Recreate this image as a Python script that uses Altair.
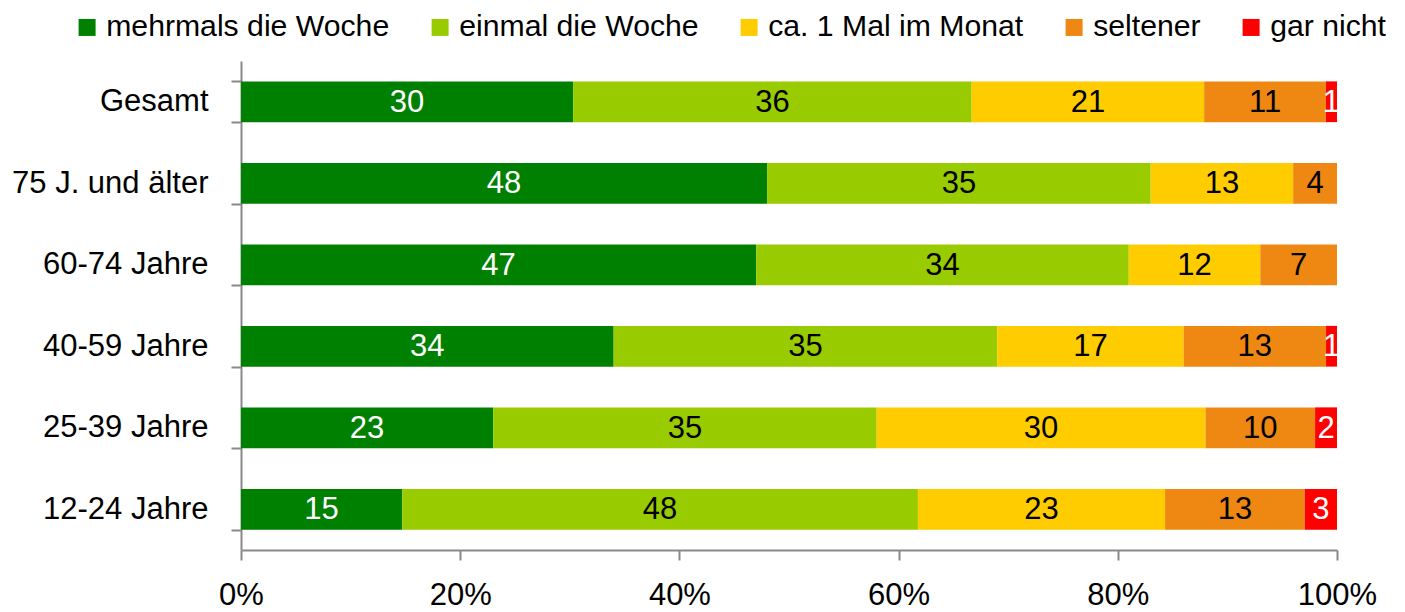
import altair as alt
import pandas as pd

gruppen = ["Gesamt", "75 J. und älter", "60-74 Jahre", "40-59 Jahre", "25-39 Jahre", "12-24 Jahre"]
kategorien = ["mehrmals die Woche", "einmal die Woche", "ca. 1 Mal im Monat", "seltener", "gar nicht"]
farben = ["#008000", "#99cc00", "#ffcc00", "#ee8812", "#ff0000"]

mehrmals = [30, 48, 47, 34, 23, 15]
einmal = [36, 35, 34, 35, 35, 48]
monatlich = [21, 13, 12, 17, 30, 23]
seltener = [11, 4, 7, 13, 10, 13]
gar_nicht = [1, 0, 0, 1, 2, 3]

serien = [mehrmals, einmal, monatlich, seltener, gar_nicht]
rows = []
for k_i, (kat, werte) in enumerate(zip(kategorien, serien)):
    for g, w in zip(gruppen, werte):
        if w > 0:
            rows.append({"gruppe": g, "kat": kat, "ord": k_i, "wert": w})
df = pd.DataFrame(rows)

FONT = "Liberation Sans"
FS = 31
LFS = 30.2

base = alt.Chart(df).transform_stack(
    stack="wert", groupby=["gruppe"], as_=["v0", "v1"],
    sort=[alt.SortField("ord", order="ascending")], offset="normalize"
).transform_calculate(mid="(datum.v0 + datum.v1) / 2")

yenc = alt.Y("gruppe:N", sort=gruppen, title=None,
             scale=alt.Scale(paddingInner=0.5, paddingOuter=0.25),
             axis=alt.Axis(tickBand="extent", labelFont=FONT, labelFontSize=FS,
                           labelColor="black", labelPadding=23, tickSize=10,
                           labelLimit=400,
                           tickColor="#898989", domainColor="#898989",
                           domainWidth=2, tickWidth=2))

bars = base.mark_bar().encode(
    x=alt.X("v0:Q", title=None,
            scale=alt.Scale(domain=[0, 1], nice=False),
            axis=alt.Axis(values=[0, 0.2, 0.4, 0.6, 0.8, 1.0], format=".0%",
                          labelFont=FONT, labelFontSize=FS, labelColor="black",
                          tickSize=10, tickColor="#898989", domainColor="#898989",
                          domainWidth=2, tickWidth=2, labelPadding=20, grid=False,
                          labelFlush=False)),
    x2="v1:Q",
    y=yenc,
    color=alt.Color("kat:N", scale=alt.Scale(domain=kategorien, range=farben),
                    sort=kategorien,
                    legend=alt.Legend(orient="none", legendX=-169, legendY=-49,
                                      direction="horizontal", title=None,
                                      symbolType="square", symbolSize=289,
                                      symbolStrokeWidth=0, labelFont=FONT,
                                      labelFontSize=LFS, labelColor="black",
                                      labelOffset=4, columnPadding=35,
                                      labelLimit=500, padding=0,
                                      symbolOpacity=1)),
    order=alt.Order("ord:Q"),
)

texts = base.mark_text(font=FONT, fontSize=FS, baseline="middle", dy=1).encode(
    x=alt.X("mid:Q"),
    y=alt.Y("gruppe:N", sort=gruppen),
    text=alt.Text("wert:Q"),
    color=alt.condition("datum.kat == 'mehrmals die Woche' || datum.kat == 'gar nicht'",
                        alt.value("white"), alt.value("black")),
)

chart = alt.layer(bars, texts).properties(
    width=1096, height=489,
    padding={"left": 233, "top": 53, "right": 60, "bottom": 60},
    autosize=alt.AutoSizeParams(type="none"),
).configure_view(stroke=None)

chart.save("out.html", embed_options={"renderer": "svg", "actions": False})
